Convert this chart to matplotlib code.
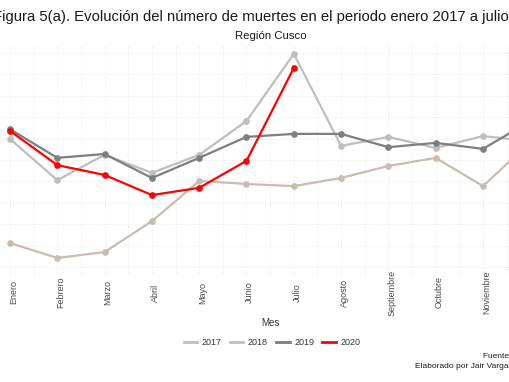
import numpy as np
import matplotlib
matplotlib.use('Agg')
import matplotlib.pyplot as plt
from matplotlib.lines import Line2D

# Data (number of deaths per month, estimated)
meses = ['Enero', 'Febrero', 'Marzo', 'Abril', 'Mayo', 'Junio', 'Julio',
         'Agosto', 'Septiembre', 'Octubre', 'Noviembre', 'Diciembre']
anios = ['2017', '2018', '2019', '2020']
muertes_2017 = [256, 221, 235, 307, 401, 394, 389, 408, 436, 455, 389, 492]
muertes_2018 = [499, 403, 462, 420, 462, 541, 698, 483, 504, 478, 506, 494]
muertes_2019 = [522, 455, 464, 408, 455, 504, 511, 511, 480, 490, 476, 541]
muertes_2020 = [518, 438, 415, 368, 385, 448, 665]
colores = ['#C9BDAF', '#BEBEBE', '#7F7F7F', '#FF0000']

plt.rcParams['font.family'] = ['Liberation Sans', 'DejaVu Sans']

W, H = 510, 382
fig = plt.figure(figsize=(W / 100, H / 100), dpi=100)
fig.patch.set_facecolor('white')

# panel spans whole width (the original image is cropped left and right)
top_px, bot_px = 45, 275
ax = fig.add_axes([0, 1 - bot_px / H, 1, (bot_px - top_px) / H])
xmin, xmax = 1 - 10 / 47.3, 1 + 500 / 47.3
ax.set_xlim(xmin, xmax)
ax.set_ylim(181.3, 718.7)

series = [muertes_2017, muertes_2018, muertes_2019, muertes_2020]
for vals, col in zip(series, colores):
    x = np.arange(1, len(vals) + 1)
    ax.plot(x, vals, color=col, lw=1.6, marker='o', ms=3.8,
            solid_joinstyle='round', clip_on=True)

# dotted grid, major + minor
for yv in range(200, 701, 50):
    ax.axhline(yv, color='#E0E0E0', lw=0.6, ls=(0, (1, 2)), zorder=0)
for xv in np.arange(0.5, 12.6, 0.5):
    ax.axvline(xv, color='#E0E0E0', lw=0.6, ls=(0, (1, 2)), zorder=0)

ax.set_xticks([])
ax.set_yticks([])
for s in ax.spines.values():
    s.set_visible(False)

# month labels (rotated), only those inside the visible panel
trans = matplotlib.transforms.blended_transform_factory(ax.transData, fig.transFigure)
for i, m in enumerate(meses):
    xd = i + 1
    if xd > xmax:
        continue
    ax.text(xd + 0.07, 1 - 292.5 / H, m, rotation=90, ha='center', va='center',
            fontsize=6.5, color='#4D4D4D', transform=trans)

fig.text(270 / W, 1 - 323 / H, 'Mes', ha='center', va='center', fontsize=7, color='#333333')

fig.text(270 / W, 1 - 17 / H,
         'Figura 5(a). Evolución del número de muertes en el periodo enero 2017 a julio 2020',
         ha='center', va='center', fontsize=10.7, color='#1A1A1A')
fig.text(271 / W, 1 - 36 / H, 'Región Cusco', ha='center', va='center',
         fontsize=8.2, color='#1A1A1A')

# legend
handles = [Line2D([0], [0], color=c, lw=2) for c in colores]
fig.legend(handles, anios, loc='center', bbox_to_anchor=(272 / W, 1 - 342.7 / H),
           ncol=4, frameon=False, fontsize=6.5, handlelength=1.5,
           handletextpad=0.5, columnspacing=0.9, labelcolor='#333333')

fig.text(483 / W, 1 - 356 / H, 'Fuente: SINADEF', ha='left', va='center',
         fontsize=6, color='#1A1A1A')
fig.text(415 / W, 1 - 367 / H, 'Elaborado por Jair Vargas', ha='left', va='center',
         fontsize=6, color='#1A1A1A')

fig.savefig('out.png', dpi=100, facecolor='white')
